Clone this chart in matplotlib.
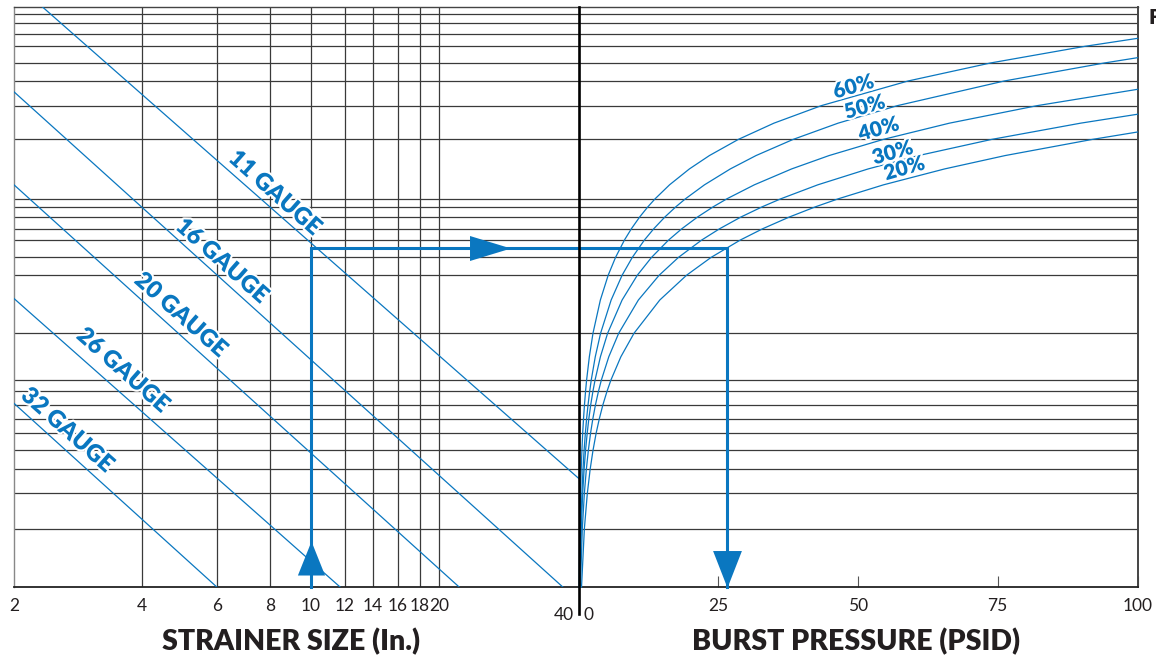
import matplotlib
matplotlib.use('Agg')
import matplotlib.pyplot as plt
import matplotlib.patheffects as pe
from matplotlib.lines import Line2D
from matplotlib.ticker import NullLocator, FixedLocator

plt.rcParams['font.family'] = ['Lato', 'DejaVu Sans']

BLUE = '#0a77c0'
GRID = '#3a3a3a'
DARK = '#231f20'

# ---------------- data ----------------
size_ticks = [2, 4, 6, 8, 10, 12, 14, 16, 18, 20, 40]
size_grid = [4, 6, 8, 10, 12, 14, 16, 18, 20]
psid_ticks = [0, 25, 50, 75, 100]
y_grid = [2.0, 3.05, 4.05, 5.08, 6.25, 7.42, 8.76, 10.27, 11.75,
          20.5, 40.9, 50.6, 62.2, 71.2, 81.8, 92.5, 101.7,
          206, 308, 413, 512, 624, 720, 827, 913]

gauges = ['11', '16', '20', '26', '32']
gauge_x0 = [2.33, 2.0, 2.0, 2.0, 2.0]
gauge_y0 = [1000, 363, 120, 31, 8.9]
gauge_x1 = [42.58, 39.1, 22.3, 11.7, 6.0]
gauge_y1 = [3.65, 1, 1, 1, 1]
gauge_lab_x = [8.22, 6.17, 4.94, 3.61, 2.67]
gauge_lab_y = [109, 48.5, 25.5, 13.2, 6.48]

open_area = ['60%', '50%', '40%', '30%', '20%']
# curve crossings (burst pressure, level)
curve_x = {
    '60%': [0.11, 0.23, 0.36, 0.48, 0.61, 0.75, 0.90, 1.07, 1.26, 1.45,
            1.94, 2.59, 3.91, 5.31, 6.63, 8.22, 9.47, 10.94, 12.43, 13.72,
            16.29, 19.84, 23.42, 28.59, 34.96, 43.45, 58.96, 73.74, 90.6, 100],
    '50%': [0.20, 0.40, 0.61, 0.80, 1.00, 1.23, 1.45, 1.71, 2.00, 2.28,
            3.00, 3.95, 5.84, 7.80, 9.63, 11.79, 13.48, 15.45, 17.44, 19.15,
            22.54, 27.16, 31.76, 38.39, 46.44, 57.06, 76.17, 94.13, 100],
    '40%': [0.24, 0.49, 0.75, 1.00, 1.26, 1.56, 1.85, 2.19, 2.58, 2.96,
            3.92, 5.21, 7.80, 10.52, 13.07, 16.12, 18.50, 21.30, 24.13, 26.58,
            31.46, 38.13, 44.83, 54.51, 66.36, 82.07, 100],
    '30%': [0.34, 0.68, 1.05, 1.40, 1.76, 2.16, 2.57, 3.04, 3.57, 4.09,
            5.42, 7.19, 10.71, 14.43, 17.89, 22.04, 25.27, 29.06, 32.91, 36.23,
            42.81, 51.82, 60.83, 73.90, 89.83, 100],
    '20%': [0.54, 1.05, 1.58, 2.08, 2.59, 3.16, 3.73, 4.37, 5.10, 5.80,
            7.58, 9.93, 14.54, 19.33, 23.73, 28.95, 32.98, 37.72, 42.45, 46.52,
            54.57, 65.50, 76.33, 91.91, 100],
}
curve_y = {
    '60%': [1, 2.0, 3.05, 4.05, 5.08, 6.25, 7.42, 8.76, 10.27, 11.75,
            15.5, 20.5, 30.45, 40.9, 50.6, 62.2, 71.2, 81.8, 92.5, 101.7,
            120, 145, 170, 206, 250, 308, 413, 512, 624, 686],
    '50%': [1, 2.0, 3.05, 4.05, 5.08, 6.25, 7.42, 8.76, 10.27, 11.75,
            15.5, 20.5, 30.45, 40.9, 50.6, 62.2, 71.2, 81.8, 92.5, 101.7,
            120, 145, 170, 206, 250, 308, 413, 512, 545],
    '40%': [1, 2.0, 3.05, 4.05, 5.08, 6.25, 7.42, 8.76, 10.27, 11.75,
            15.5, 20.5, 30.45, 40.9, 50.6, 62.2, 71.2, 81.8, 92.5, 101.7,
            120, 145, 170, 206, 250, 308, 374],
    '30%': [1, 2.0, 3.05, 4.05, 5.08, 6.25, 7.42, 8.76, 10.27, 11.75,
            15.5, 20.5, 30.45, 40.9, 50.6, 62.2, 71.2, 81.8, 92.5, 101.7,
            120, 145, 170, 206, 250, 278],
    '20%': [1, 2.0, 3.05, 4.05, 5.08, 6.25, 7.42, 8.76, 10.27, 11.75,
            15.5, 20.5, 30.45, 40.9, 50.6, 62.2, 71.2, 81.8, 92.5, 101.7,
            120, 145, 170, 206, 225],
}
pct_lab_x = [49.2, 51.2, 53.7, 56.2, 58.3]
pct_lab_y = [386, 303, 233, 176, 146]

ex_size = 10
ex_level = 56.4
ex_psid = 26.5

# ---------------- figure ----------------
W, H = 1156, 658
fig = plt.figure(figsize=(W / 100, H / 100), dpi=100)


def rect(x0, y0, x1, y1):
    return [x0 / W, 1 - y1 / H, (x1 - x0) / W, (y1 - y0) / H]


axL = fig.add_axes(rect(14, 6.7, 578.5, 587))
axR = fig.add_axes(rect(578.5, 6.7, 1137.5, 587))

for ax in (axL, axR):
    ax.set_yscale('log')
    ax.set_ylim(1, 1000)
    ax.yaxis.set_major_locator(NullLocator())
    ax.yaxis.set_minor_locator(NullLocator())
    for yv in y_grid:
        ax.axhline(yv, color=GRID, lw=0.9, zorder=1)
    ax.spines['top'].set_color('#444444')
    ax.spines['top'].set_linewidth(1.0)
    ax.spines['bottom'].set_color('#222222')
    ax.spines['bottom'].set_linewidth(1.3)

TICK_FS = 12.5

# left panel
axL.set_xscale('log')
axL.set_xlim(2, 42.58)
axL.xaxis.set_major_locator(FixedLocator(size_ticks))
axL.xaxis.set_minor_locator(NullLocator())
axL.set_xticklabels([str(t) if t != 40 else '' for t in size_ticks])
axL.tick_params(axis='x', length=0, pad=8, labelsize=TICK_FS, labelcolor=DARK)
axL.spines['left'].set_color('#888888')
axL.spines['left'].set_linewidth(1.0)
axL.spines['right'].set_visible(False)
for xv in size_grid:
    axL.axvline(xv, color=GRID, lw=0.9, zorder=1)
axL.text(39.3, -0.0345, '40', transform=axL.get_xaxis_transform(),
         ha='center', va='top', fontsize=TICK_FS, color=DARK)

# right panel
axR.set_xlim(0, 100)
axR.xaxis.set_major_locator(FixedLocator(psid_ticks))
axR.set_xticklabels(['' if t == 0 else str(t) for t in psid_ticks])
axR.tick_params(axis='x', direction='in', length=8, width=0.8, color='#555555',
                pad=8, labelsize=TICK_FS, labelcolor=DARK)
axR.spines['left'].set_visible(False)
axR.spines['right'].set_color('#444444')
axR.spines['right'].set_linewidth(1.4)
axR.text(0.9, -0.0345, '0', transform=axR.get_xaxis_transform(), ha='left',
         va='top', fontsize=TICK_FS, color=DARK)

halo = [pe.withStroke(linewidth=3, foreground='white')]

for g, x0, y0, x1, y1, lx, ly in zip(gauges, gauge_x0, gauge_y0, gauge_x1,
                                     gauge_y1, gauge_lab_x, gauge_lab_y):
    axL.plot([x0, x1], [y0, y1], color=BLUE, lw=0.9, zorder=3)
    axL.text(lx, ly, f'{g} GAUGE', rotation=-41.5, rotation_mode='anchor',
             ha='center', va='center', fontsize=17, fontweight='heavy',
             color=BLUE, path_effects=halo, zorder=5)

for name, lx, ly in zip(open_area, pct_lab_x, pct_lab_y):
    axR.plot(curve_x[name], curve_y[name], color=BLUE, lw=0.9, zorder=3,
             clip_on=False)
    axR.text(lx, ly, name, rotation=16, rotation_mode='anchor', ha='center',
             va='center', fontsize=15, fontweight='heavy', color=BLUE,
             path_effects=halo, zorder=5)

axL.plot([ex_size, ex_size, 42.58], [1, ex_level, ex_level], color=BLUE,
         lw=2.2, zorder=4, clip_on=False, solid_joinstyle='miter')
axR.plot([0, ex_psid, ex_psid], [ex_level, ex_level, 1], color=BLUE,
         lw=2.2, zorder=4, clip_on=False, solid_joinstyle='miter')
up_tri = [(-0.4, -0.5), (0.4, -0.5), (0, 0.5)]
right_tri = [(-0.5, -0.305), (-0.5, 0.305), (0.5, 0)]
down_tri = [(-0.39, 0.5), (0.39, 0.5), (0, -0.5)]
axL.plot(ex_size, 1.41, marker=up_tri, ms=24.5, color=BLUE, mew=0,
         zorder=6, clip_on=False)
axL.plot(26.3, ex_level, marker=right_tri, ms=29.5, color=BLUE, mew=0,
         zorder=6, clip_on=False)
axR.plot(ex_psid, 1.239, marker=down_tri, ms=26.6, color=BLUE, mew=0,
         zorder=6, clip_on=False)

fig.add_artist(Line2D([578.5 / W] * 2, [1 - 6.7 / H, 1 - 614 / H],
                      transform=fig.transFigure, color='black', lw=1.9))

fig.text(291 / W, 1 - 642 / H, 'STRAINER SIZE (In.)', ha='center',
         va='center', fontsize=20.5, fontweight='heavy', color=DARK)
fig.text(856 / W, 1 - 642 / H, 'BURST PRESSURE (PSID)', ha='center',
         va='center', fontsize=20.5, fontweight='heavy', color=DARK)
fig.text(1149 / W, 1 - 17.5 / H, 'F', ha='left', va='center', fontsize=15,
         fontweight='heavy', color=DARK)

fig.savefig('out.png', dpi=100)
